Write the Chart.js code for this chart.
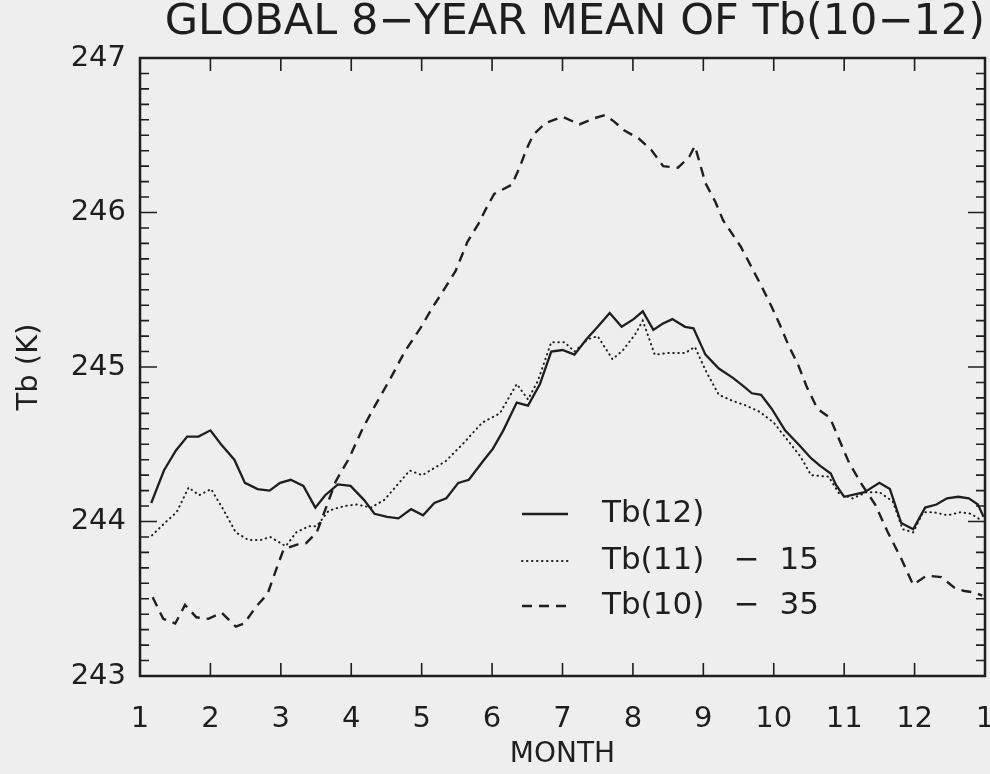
<!DOCTYPE html>
<html>
<head>
<meta charset="utf-8">
<script src="https://cdn.jsdelivr.net/npm/chart.js@4.4.1/dist/chart.umd.min.js"></script>
<style>
html, body { margin: 0; padding: 0; background: #eeeeee; }
canvas { display: block; }
</style>
</head>
<body>
<canvas id="grafico" width="990" height="774"></canvas>
<script>
/* Media global de 8 anos - Tb(10-12) */

// eixo x em meses (1 = janeiro, 13 = janeiro seguinte)
var mesesTb12 = [1.16,1.34,1.51,1.67,1.83,2.00,2.15,2.34,2.49,2.67,2.84,2.99,3.14,3.32,3.49,3.63,3.81,3.99,4.18,4.33,4.51,4.67,4.85,5.02,5.18,5.35,5.52,5.67,5.87,6.01,6.16,6.35,6.51,6.68,6.84,7.00,7.17,7.34,7.50,7.67,7.84,8.01,8.14,8.29,8.42,8.56,8.74,8.86,9.03,9.22,9.42,9.56,9.69,9.82,9.97,10.16,10.37,10.53,10.66,10.81,10.88,11.00,11.29,11.50,11.65,11.81,11.98,12.15,12.31,12.46,12.62,12.77,12.90,12.98];
var valoresTb12 = [244.12,244.33,244.46,244.55,244.55,244.59,244.50,244.40,244.25,244.21,244.20,244.25,244.27,244.23,244.09,244.17,244.24,244.23,244.14,244.05,244.03,244.02,244.08,244.04,244.12,244.15,244.25,244.27,244.39,244.47,244.59,244.77,244.75,244.89,245.10,245.11,245.08,245.18,245.26,245.35,245.26,245.31,245.36,245.24,245.28,245.31,245.26,245.25,245.08,244.99,244.93,244.88,244.83,244.82,244.73,244.59,244.49,244.41,244.36,244.31,244.24,244.16,244.19,244.25,244.21,243.99,243.95,244.09,244.11,244.15,244.16,244.15,244.11,244.03];

var mesesTb11 = [1.17,1.35,1.52,1.69,1.84,2.01,2.18,2.36,2.54,2.71,2.85,3.07,3.22,3.40,3.51,3.68,3.90,4.08,4.28,4.47,4.66,4.83,5.01,5.34,5.58,5.86,6.11,6.35,6.51,6.65,6.84,7.03,7.17,7.36,7.50,7.71,7.86,8.03,8.14,8.31,8.49,8.74,8.88,9.03,9.22,9.42,9.61,9.80,10.00,10.19,10.38,10.53,10.78,10.93,11.12,11.32,11.50,11.69,11.83,11.98,12.12,12.27,12.47,12.65,12.80,12.94];
var valoresTb11 = [243.91,243.99,244.06,244.22,244.17,244.21,244.08,243.93,243.88,243.88,243.90,243.84,243.93,243.97,243.97,244.07,244.10,244.11,244.09,244.14,244.24,244.33,244.30,244.39,244.50,244.64,244.70,244.89,244.79,244.91,245.16,245.16,245.10,245.18,245.20,245.05,245.11,245.21,245.30,245.08,245.09,245.09,245.13,244.98,244.82,244.78,244.75,244.71,244.64,244.53,244.42,244.30,244.29,244.18,244.15,244.19,244.19,244.13,243.95,243.93,244.06,244.06,244.04,244.06,244.05,244.01];

var mesesTb10 = [1.18,1.33,1.50,1.64,1.80,1.97,2.16,2.36,2.48,2.65,2.81,2.95,3.04,3.23,3.36,3.51,3.65,3.78,3.97,4.16,4.35,4.55,4.76,4.98,5.16,5.33,5.48,5.65,5.81,5.92,6.03,6.28,6.39,6.48,6.58,6.76,7.00,7.24,7.45,7.60,7.73,7.88,8.08,8.27,8.43,8.64,8.80,8.88,8.95,9.03,9.17,9.28,9.53,9.68,9.83,9.97,10.09,10.21,10.35,10.47,10.62,10.80,10.92,11.07,11.25,11.44,11.62,11.81,11.98,12.17,12.38,12.57,12.71,12.86,12.96];
var valoresTb10 = [243.51,243.37,243.34,243.46,243.38,243.37,243.41,243.32,243.34,243.45,243.53,243.71,243.82,243.85,243.86,243.93,244.10,244.26,244.41,244.60,244.76,244.92,245.10,245.25,245.39,245.51,245.62,245.81,245.93,246.03,246.12,246.18,246.29,246.40,246.50,246.58,246.62,246.57,246.61,246.63,246.59,246.53,246.48,246.40,246.30,246.29,246.36,246.43,246.32,246.19,246.07,245.95,245.78,245.65,245.52,245.39,245.27,245.14,245.01,244.87,244.73,244.67,244.54,244.38,244.24,244.11,243.93,243.76,243.59,243.65,243.64,243.57,243.55,243.54,243.52];

var rotulosMes = ['1','2','3','4','5','6','7','8','9','10','11','12','1'];
var legendas = ['Tb(12)', 'Tb(11)   \u2212  15', 'Tb(10)   \u2212  35'];

var yMin = 243, yMax = 247;
var tinta = '#1e1e1e';
var fonte = "'DejaVu Sans', sans-serif";

function pares(meses, valores) {
    var out = [];
    for (var i = 0; i < Math.min(meses.length, valores.length); i++) {
        out.push({x: meses[i], y: valores[i]});
    }
    return out;
}

// moldura, marcas internas e legenda dentro do grafico
var moldura = {
    id: 'moldura',
    afterDatasetsDraw: function(chart) {
        var a = chart.chartArea, c = chart.ctx;
        var sx = chart.scales.x, sy = chart.scales.y;
        c.save();
        c.strokeStyle = tinta;
        c.lineWidth = 2.5;
        c.strokeRect(a.left, a.top, a.right - a.left, a.bottom - a.top);

        c.lineWidth = 1.6;
        c.beginPath();
        for (var i = 0; i <= (yMax - yMin) * 10; i++) {
            var p = sy.getPixelForValue(yMin + i / 10);
            var len = (i % 10 === 0) ? 17 : 9;
            c.moveTo(a.left, p); c.lineTo(a.left + len, p);
            c.moveTo(a.right, p); c.lineTo(a.right - len, p);
        }
        for (var m = 2; m <= 12; m++) {
            var q = sx.getPixelForValue(m);
            c.moveTo(q, a.bottom); c.lineTo(q, a.bottom - 13);
            c.moveTo(q, a.top); c.lineTo(q, a.top + 13);
        }
        c.stroke();

        // legenda
        var x0 = a.left + 382, x1 = a.left + 428, xt = a.left + 462;
        var linhas = [a.top + 456, a.top + 503, a.top + 548];
        c.font = "31px " + fonte;
        c.textBaseline = 'middle';
        c.fillStyle = tinta;
        chart.data.datasets.forEach(function(ds, k) {
            c.beginPath();
            c.lineWidth = ds.borderWidth;
            c.lineCap = ds.borderCapStyle || 'butt';
            c.setLineDash(ds.borderDash || []);
            c.moveTo(x0, linhas[k]); c.lineTo(x1, linhas[k]);
            c.stroke();
            c.setLineDash([]);
            c.fillText(ds.label, xt, linhas[k]);
        });
        c.restore();
    }
};

var ctx = document.getElementById("grafico");
var chartGraph = new Chart(ctx, {
    type: 'line',
    data: {
        datasets: [{
            label: legendas[0],
            data: pares(mesesTb12, valoresTb12),
            borderColor: tinta,
            borderWidth: 2.3,
            pointRadius: 0,
            fill: false
        }, {
            label: legendas[1],
            data: pares(mesesTb11, valoresTb11),
            borderColor: tinta,
            borderWidth: 2,
            borderDash: [0.5, 4.5],
            borderCapStyle: 'round',
            pointRadius: 0,
            fill: false
        }, {
            label: legendas[2],
            data: pares(mesesTb10, valoresTb10),
            borderColor: tinta,
            borderWidth: 2.4,
            borderDash: [10, 7],
            pointRadius: 0,
            fill: false
        }]
    },
    options: {
        responsive: false,
        animation: false,
        layout: { autoPadding: false, padding: { left: 0, right: 5, top: 0, bottom: 0 } },
        plugins: {
            legend: { display: false },
            tooltip: { enabled: false },
            title: {
                display: true,
                text: 'GLOBAL 8\u2212YEAR MEAN OF Tb(10\u221212)',
                align: 'end',
                color: tinta,
                font: { family: fonte, size: 43, weight: 'normal', lineHeight: 1.0 },
                padding: { top: 1, bottom: 14 }
            }
        },
        scales: {
            x: {
                type: 'linear',
                min: 1,
                max: 13,
                grid: { display: false, drawTicks: false },
                border: { display: false },
                ticks: {
                    stepSize: 1,
                    autoSkip: false,
                    maxRotation: 0,
                    padding: 26,
                    color: tinta,
                    font: { family: fonte, size: 29 },
                    callback: function(v) { return rotulosMes[v - 1]; }
                },
                title: {
                    display: true,
                    text: 'MONTH',
                    color: tinta,
                    font: { family: fonte, size: 28, lineHeight: 1.2 },
                    padding: { top: 0, bottom: 2 }
                },
                afterFit: function(s) {
                    s.height = 98;
                    s.paddingLeft = 0;
                    s.paddingRight = 0;
                }
            },
            y: {
                min: yMin,
                max: yMax,
                grid: { display: false, drawTicks: false },
                border: { display: false },
                ticks: {
                    stepSize: 1,
                    padding: 14,
                    color: tinta,
                    font: { family: fonte, size: 29 }
                },
                title: {
                    display: true,
                    text: 'Tb (K)',
                    color: tinta,
                    font: { family: fonte, size: 29, lineHeight: 1.2 },
                    padding: { top: 12, bottom: 0 }
                },
                afterFit: function(s) {
                    s.width = 140;
                    s.paddingTop = 0;
                    s.paddingBottom = 0;
                }
            }
        }
    },
    plugins: [moldura]
});
</script>
</body>
</html>
